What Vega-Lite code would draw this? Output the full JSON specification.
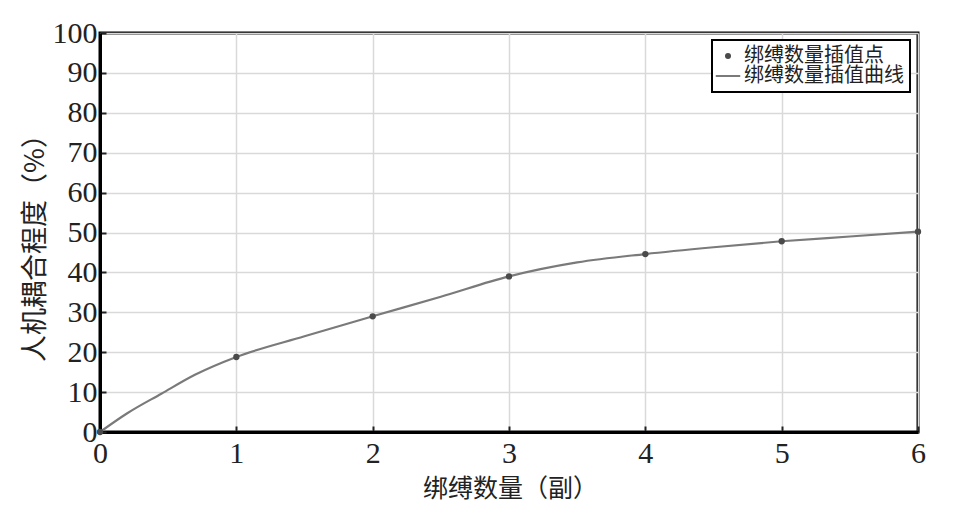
{
  "$schema": "https://vega.github.io/schema/vega-lite/v6.json",
  "width": 818,
  "height": 399,
  "autosize": {"type": "none"},
  "padding": {"left": 100, "top": 33, "right": 41, "bottom": 79},
  "background": "white",
  "datasets": {
    "pts": [
      {"n": 0, "v": 0, "series": "绑缚数量插值点"},
      {"n": 1, "v": 18.8, "series": "绑缚数量插值点"},
      {"n": 2, "v": 29.0, "series": "绑缚数量插值点"},
      {"n": 3, "v": 39.0, "series": "绑缚数量插值点"},
      {"n": 4, "v": 44.6, "series": "绑缚数量插值点"},
      {"n": 5, "v": 47.8, "series": "绑缚数量插值点"},
      {"n": 6, "v": 50.2, "series": "绑缚数量插值点"}
    ],
    "curve": [
      {"n": 0, "v": 0, "series": "绑缚数量插值曲线"},
      {"n": 0.2, "v": 4.7, "series": "绑缚数量插值曲线"},
      {"n": 0.45, "v": 9.6, "series": "绑缚数量插值曲线"},
      {"n": 0.7, "v": 14.4, "series": "绑缚数量插值曲线"},
      {"n": 1, "v": 18.8, "series": "绑缚数量插值曲线"},
      {"n": 1.5, "v": 24.0, "series": "绑缚数量插值曲线"},
      {"n": 2, "v": 29.0, "series": "绑缚数量插值曲线"},
      {"n": 2.5, "v": 33.9, "series": "绑缚数量插值曲线"},
      {"n": 3, "v": 39.0, "series": "绑缚数量插值曲线"},
      {"n": 3.5, "v": 42.5, "series": "绑缚数量插值曲线"},
      {"n": 4, "v": 44.6, "series": "绑缚数量插值曲线"},
      {"n": 4.5, "v": 46.3, "series": "绑缚数量插值曲线"},
      {"n": 5, "v": 47.8, "series": "绑缚数量插值曲线"},
      {"n": 5.5, "v": 49.0, "series": "绑缚数量插值曲线"},
      {"n": 6, "v": 50.2, "series": "绑缚数量插值曲线"}
    ]
  },
  "config": {
    "view": {"stroke": "black", "strokeWidth": 3},
    "axis": {
      "labelFont": "Liberation Serif",
      "labelFontSize": 30,
      "labelColor": "#222",
      "titleFont": "Noto Sans CJK SC",
      "titleFontSize": 25,
      "titleFontWeight": "normal",
      "titleColor": "#222",
      "gridColor": "#d9d9d9",
      "gridWidth": 1.5,
      "gridOpacity": 1,
      "domainColor": "black",
      "domainWidth": 3,
      "tickColor": "#222",
      "tickWidth": 2,
      "tickSize": -6,
      "labelFlush": false,
      "labelBound": false,
      "labelOverlap": false
    },
    "legend": {"strokeWidth": 2}
  },
  "encoding": {
    "x": {
      "field": "n", "type": "quantitative",
      "scale": {"domain": [0, 6], "nice": false},
      "axis": {
        "values": [0, 1, 2, 3, 4, 5, 6],
        "format": "d",
        "title": "绑缚数量（副）",
        "labelPadding": 12,
        "labelBaseline": "top",
        "titleX": 410,
        "titleY": 56,
        "titleBaseline": "middle",
        "titleFontSize": 25
      }
    },
    "y": {
      "field": "v", "type": "quantitative",
      "scale": {"domain": [0, 100], "nice": false},
      "axis": {
        "values": [0, 10, 20, 30, 40, 50, 60, 70, 80, 90, 100],
        "format": "d",
        "title": "人机耦合程度（%）",
        "labelPadding": 9,
        "titleX": -65,
        "titleY": 208,
        "titleBaseline": "middle",
        "titleFontSize": 27
      }
    },
    "color": {
      "field": "series", "type": "nominal",
      "scale": {"domain": ["绑缚数量插值点", "绑缚数量插值曲线"], "range": ["#4a4a4a", "#7a7a7a"]},
      "legend": {
        "title": null,
        "orient": "none",
        "legendX": 612,
        "legendY": 7,
        "strokeColor": "black",
        "fillColor": "white",
        "padding": 6,
        "labelFont": "Noto Sans CJK SC",
        "labelFontSize": 20,
        "labelColor": "#222",
        "labelOffset": 6,
        "rowPadding": -4,
        "symbolSize": 600,
        "encode": {"symbols": {"update": {
          "shape": {"signal": "datum.value === '绑缚数量插值点' ? 'circle' : 'stroke'"},
          "size": {"signal": "datum.value === '绑缚数量插值点' ? 36 : 600"},
          "stroke": {"value": "#777"},
          "strokeWidth": {"signal": "datum.value === '绑缚数量插值点' ? 0 : 2"},
          "fill": {"signal": "datum.value === '绑缚数量插值点' ? '#777' : 'transparent'"},
          "opacity": {"value": 1}
        }}}
      }
    }
  },
  "layer": [
    {
      "data": {"name": "curve"},
      "mark": {"type": "line", "strokeWidth": 2.2, "interpolate": "monotone"}
    },
    {
      "data": {"name": "pts"},
      "mark": {"type": "point", "filled": true, "size": 40, "opacity": 1}
    }
  ]
}
